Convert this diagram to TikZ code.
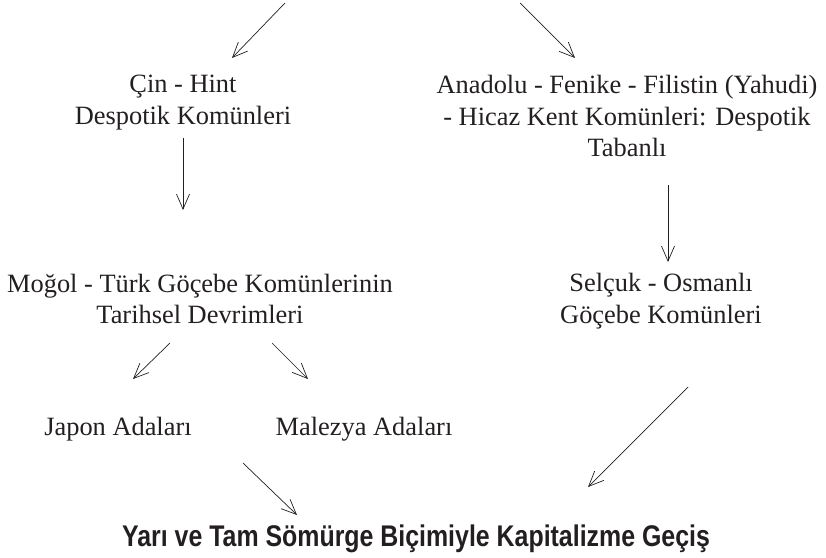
\documentclass[tikz,border=0pt]{standalone}
\usepackage{fontspec}
\usepackage{graphicx}
\setmainfont{Liberation Serif}
\newfontfamily\headfont{Liberation Sans}
\usetikzlibrary{arrows.meta}
\definecolor{ink}{HTML}{231F20}

\tikzset{
  txt/.style={align=center, text=ink, inner sep=0pt,
    font=\fontsize{26.5}{32}\selectfont},
  arr/.style={draw=ink, line width=0.7pt,
    -{Straight Barb[length=15bp, width=13bp, line width=0.7pt]}}
}

\begin{document}
\begin{tikzpicture}[x=1bp, y=-1bp]
\useasboundingbox (0,0) rectangle (826,558);

\node[txt] (cin) at (183,103) {Çin - Hint\\Despotik Komünleri};
\node[txt] (anadolu) at (627,116) {Anadolu - Fenike - Filistin (Yahudi)\\- Hicaz Kent Komünleri: Despotik\\Tabanlı};

\node[txt] (mogol) at (200,299) {Moğol - Türk Göçebe Komünlerinin\\Tarihsel Devrimleri};
\node[txt] (selcuk) at (661,301) {Selçuk - Osmanlı\\Göçebe Komünleri};

\node[txt] (japon) at (118,429) {Japon Adaları};
\node[txt] (malezya) at (364,429) {Malezya Adaları};

\node[txt, font=\headfont\bfseries\fontsize{25}{30}\selectfont] (gecis) at (416,539)
  {\scalebox{1}[1.2]{Yarı ve Tam Sömürge Biçimiyle Kapitalizme Geçiş}};

% arrow ends
\coordinate (tl) at (285,3);
\coordinate (tr) at (520,3);
\coordinate (cinin) at (232,58);
\coordinate (anain) at (575,58);
\coordinate (cinout) at (183,138);
\coordinate (mogin) at (183,210);
\coordinate (anaout) at (668,185);
\coordinate (selin) at (668,262);
\coordinate (mogl) at (170,343);
\coordinate (mogr) at (272,343);
\coordinate (japin) at (133,379);
\coordinate (malin) at (308,379);
\coordinate (japout) at (243,463);
\coordinate (selout) at (688,387);
\coordinate (gecl) at (297,515);
\coordinate (gecr) at (588,487);

\draw[arr] (tl) -- (cinin);
\draw[arr] (tr) -- (anain);
\draw[arr] (cinout) -- (mogin);
\draw[arr] (anaout) -- (selin);
\draw[arr] (mogl) -- (japin);
\draw[arr] (mogr) -- (malin);
\draw[arr] (japout) -- (gecl);
\draw[arr] (selout) -- (gecr);

\end{tikzpicture}
\end{document}
